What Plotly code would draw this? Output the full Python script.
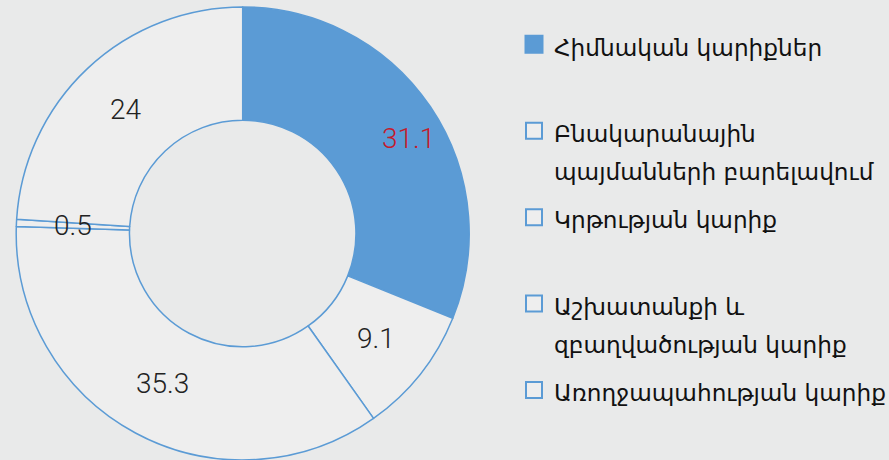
import math
import plotly.graph_objects as go

categories = [
    "Հիմնական կարիքներ",
    "Բնակարանային<br>պայմանների բարելավում",
    "Կրթության կարիք",
    "Աշխատանքի և<br>զբաղվածության կարիք",
    "Առողջապահության կարիք",
]
values = [31.1, 9.1, 35.3, 0.5, 24]
value_labels = ["31.1", "9.1", "35.3", "0.5", "24"]

BLUE = "#5B9BD5"
LIGHT = "#EEEEEE"
slice_colors = [BLUE, LIGHT, LIGHT, LIGHT, LIGHT]
text_colors = ["#C41A2C", "#222222", "#222222", "#222222", "#222222"]
label_xshift = [25, 0, 0, 0, 0]

W, H = 889, 460
# donut placement (pixels)
CX = 242.7
TOP = 7
R = (H - TOP) / 2
HOLE = 0.5

fig = go.Figure()
fig.add_trace(go.Pie(
    values=values,
    labels=[c.replace("<br>", " ") for c in categories],
    textinfo="none",
    sort=False,
    direction="clockwise",
    rotation=0,
    hole=HOLE,
    marker=dict(colors=slice_colors, line=dict(color=BLUE, width=1.5)),
    domain=dict(x=[(CX - R) / W, (CX + R) / W], y=[0, 1 - TOP / H]),
    showlegend=False,
    hoverinfo="label+value",
))

# value labels placed on the slice bisectors at mid-ring radius
cy = TOP + R
rmid = R * (1 + HOLE) / 2
total = sum(values)
cum = 0.0
for v, t, c, xs in zip(values, value_labels, text_colors, label_xshift):
    theta = 2 * math.pi * (cum + v / 2) / total
    cum += v
    px = CX + rmid * math.sin(theta)
    py = cy - rmid * math.cos(theta)
    fig.add_annotation(
        x=px / W, y=1 - py / H, xref="paper", yref="paper",
        xanchor="center", yanchor="middle",
        text=t, showarrow=False, xshift=xs,
        font=dict(family="Roboto", size=28, color=c, weight=300),
    )

# legend entries
for i, (name, col) in enumerate(zip(categories, slice_colors)):
    lines = name.split("<br>")
    if len(lines) == 1:
        lines.append(" ")
    label = "<br>".join("<span style='font-size:23.2px'>%s</span>" % ln for ln in lines)
    fig.add_trace(go.Scatter(
        x=[0], y=[0], mode="markers", name=label,
        legendgroup=str(i), showlegend=True, hoverinfo="skip",
        marker=dict(symbol="square", size=20, color=col,
                    line=dict(color=BLUE, width=3 if col == BLUE else 2)),
    ))

fig.update_layout(
    width=W, height=H,
    margin=dict(l=0, r=0, t=0, b=0, autoexpand=False),
    paper_bgcolor="#E9EAEA",
    plot_bgcolor="rgba(0,0,0,0)",
    xaxis=dict(visible=False, range=[1, 2]),
    yaxis=dict(visible=False, range=[1, 2]),
    legend=dict(
        x=514 / W, y=1 - 19 / H, xanchor="left", yanchor="top",
        valign="top", traceorder="grouped", tracegroupgap=8,
        itemsizing="trace",
        font=dict(family="DejaVu Sans", size=29, color="#111111"),
        bgcolor="rgba(0,0,0,0)", itemclick=False, itemdoubleclick=False,
    ),
)

fig.write_html("out.html", config={"displayModeBar": False},
               post_script="document.body.style.margin='0';")
